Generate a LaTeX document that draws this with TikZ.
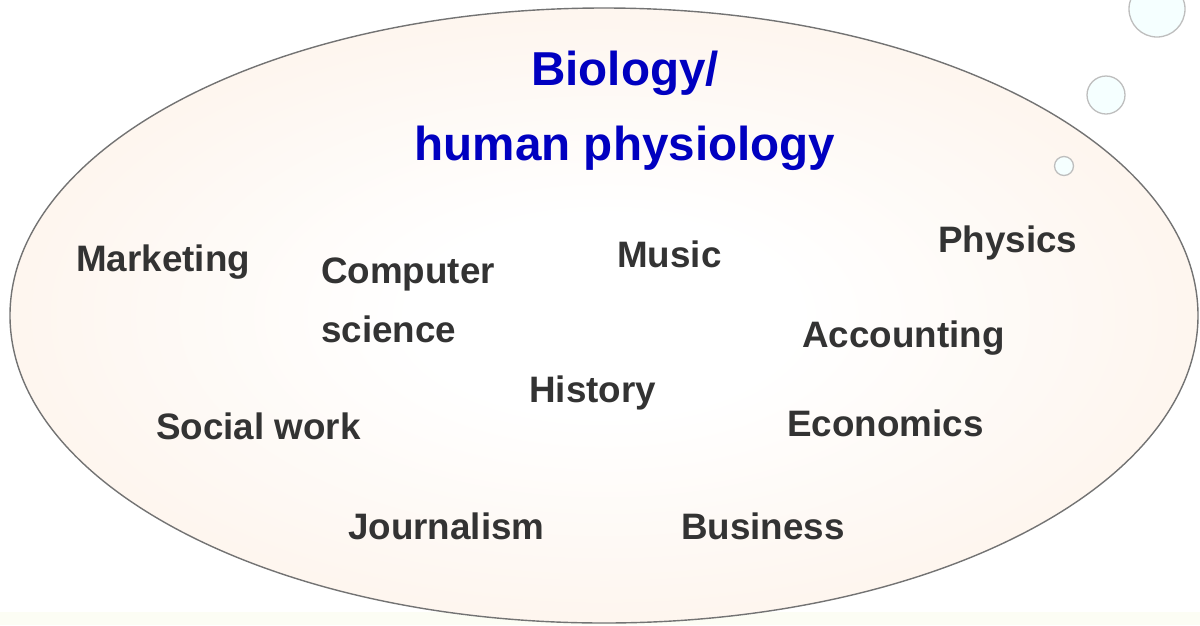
\documentclass[tikz,border=0pt]{standalone}
\usepackage{fontspec}
\setmainfont{Liberation Sans}
\usepackage{tikz}

\definecolor{peach}{RGB}{253,240,229}
\definecolor{bubblefill}{RGB}{245,255,255}
\definecolor{bubbleline}{RGB}{190,190,190}
\definecolor{titleblue}{RGB}{0,0,192}
\definecolor{subjgray}{RGB}{51,51,51}
\definecolor{floorband}{RGB}{252,253,244}

\pgfdeclareradialshading{peachglow}{\pgfpoint{0bp}{0bp}}{color(0bp)=(white); color(8bp)=(white); color(35bp)=(peach); color(50bp)=(peach)}

\begin{document}
\begin{tikzpicture}[x=1pt, y=-1pt,
  subject/.style={anchor=base west, inner sep=0pt, text=subjgray,
    font=\fontsize{36.8}{59}\selectfont\bfseries},
  heading/.style={anchor=base, inner sep=0pt, text=titleblue, align=center,
    font=\fontsize{47.6}{75}\selectfont\bfseries},
  bubble/.style={draw=bubbleline, fill=bubblefill, line width=1.3pt}]
\useasboundingbox (0,0) rectangle (1200,625);
\fill[floorband] (0,612) rectangle (1200,625);
\shade[shading=peachglow, draw=gray!90!black, line width=1.4pt]
  (604,315.5) ellipse [x radius=594, y radius=307.5];
\draw[bubble] (1157,9) circle (28);
\draw[bubble] (1106,95) circle (19);
\draw[bubble] (1064,166) circle (9.5);
% title, base sits on the last line
\node[heading] (bio) at (625,160) {Biology/\\human physiology};
\node[subject] (mkt) at (76,271) {Marketing};
\node[subject, align=left] (cs) at (321,342) {Computer\\science};
\node[subject] (mus) at (617,267) {Music};
\node[subject] (phy) at (938,252) {Physics};
\node[subject] (acc) at (802,347) {Accounting};
\node[subject] (his) at (529,402) {History};
\node[subject] (soc) at (156,439) {Social work};
\node[subject] (eco) at (787,436) {Economics};
\node[subject] (jou) at (348,539) {Journalism};
\node[subject] (bus) at (681,539) {Business};
\end{tikzpicture}
\end{document}
